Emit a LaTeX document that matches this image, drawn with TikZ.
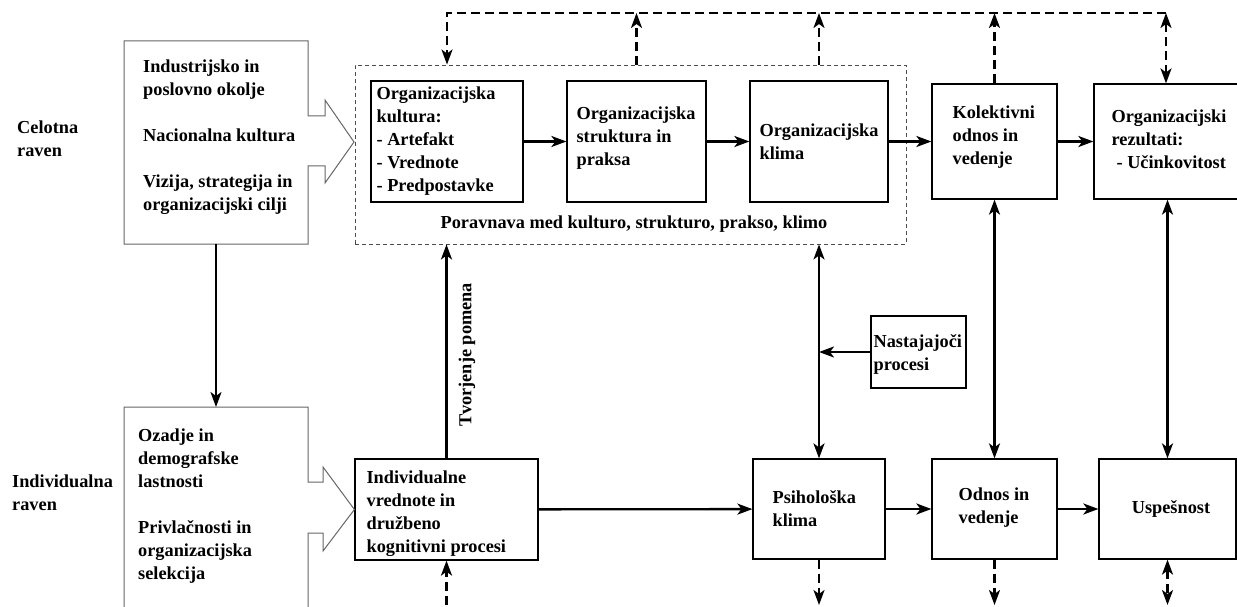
\documentclass[tikz,border=0pt]{standalone}
\usepackage{fontspec}
\setmainfont{Liberation Serif}
\usetikzlibrary{arrows.meta,positioning}

\tikzset{
  headtip/.tip={Stealth[length=15pt,width=11pt,inset=4pt]},
  box/.style={draw=black, line width=1.2pt, inner sep=0pt},
  txt/.style={font=\fontsize{18.3pt}{23pt}\selectfont\bfseries, align=left, inner sep=0pt},
  arr/.style={line width=2.3pt, -headtip},
  darr/.style={line width=2.3pt, headtip-headtip},
  loopline/.style={line width=2.3pt, dash pattern=on 9pt off 5pt},
  shapeline/.style={draw=black!60, line width=1pt},
}

\begin{document}
\begin{tikzpicture}[x=1pt,y=-1pt]
  \useasboundingbox (0,0) rectangle (1237,607);

  % Level labels
  \node[txt, anchor=west] (celotna) at (17,138.5) {Celotna\\raven};
  \node[txt, anchor=west] (indiv) at (12,492.5) {Individualna\\raven};

  % Context boxes with arrow notches
  \draw[shapeline] (124,41) -- (308,41) -- (308,116) -- (325,116) -- (325,100)
    -- (354,142) -- (325,183) -- (325,166) -- (308,166) -- (308,244) -- (124,244) -- cycle;
  \node[txt, anchor=west] (envT) at (143,137)
    {Industrijsko in\\poslovno okolje\\[23.5pt]Nacionalna kultura\\[23pt]Vizija, strategija in\\organizacijski cilji};
  \coordinate (envbot) at (216,244);

  % Dashed alignment frame
  \node[draw=black!70, line width=0.9pt, dash pattern=on 4pt off 3pt,
        minimum width=551pt, minimum height=179pt] (poravnava) at (630.5,154.5) {};
  \node[txt] (poravT) at (634,224) {Poravnava med kulturo, strukturo, prakso, klimo};

  % Top row
  \node[box, minimum width=152pt, minimum height=121pt] (kult) at (447,141.5) {};
  \node[txt, right=6pt of kult.west] (kultT)
    {Organizacijska\\kultura:\\- Artefakt\\- Vrednote\\- Predpostavke};
  \node[box, minimum width=139pt, minimum height=121pt] (struk) at (636.5,141.5) {};
  \node[txt, right=10pt of struk.west, yshift=3pt] (strukT) {Organizacijska\\struktura in\\praksa};
  \node[box, minimum width=138pt, minimum height=121pt] (klima) at (819,141.5) {};
  \node[txt, right=10pt of klima.west] (klimaT) {Organizacijska\\klima};
  \node[box, minimum width=125pt, minimum height=115pt] (kolekt) at (994.5,141.5) {};
  \node[txt, right=21pt of kolekt.west, yshift=4pt] (kolektT) {Kolektivni\\odnos in\\vedenje};
  \node[box, minimum width=151pt, minimum height=115pt] (rez) at (1169.5,141.5) {};
  \node[txt, right=18pt of rez.west, yshift=2pt] (rezT)
    {Organizacijski\\rezultati:\\\hspace{5pt}- Učinkovitost};

  \draw[arr] (kult) -- (struk);
  \draw[arr] (struk) -- (klima);
  \draw[arr] (klima) -- (kolekt);
  \draw[arr] (kolekt) -- (rez);

  % Feedback loop on top
  \coordinate (loopL) at (447,13);
  \coordinate (loopR) at (1166,13);
  \draw[loopline, -headtip] (loopR) -- (loopL) -- (loopL |- poravnava.north);
  \draw[loopline, -headtip] (struk |- poravnava.north) -- (struk |- loopL);
  \draw[loopline, -headtip] (klima |- poravnava.north) -- (klima |- loopL);
  \draw[loopline, -headtip] (kolekt.north) -- (kolekt |- loopL);
  \draw[loopline, headtip-headtip] (loopR) -- (loopR |- rez.north);

  % Individual context box
  \node[box, minimum width=183pt, minimum height=101pt] (indv) at (446.5,509.5) {};
  \node[txt, right=12pt of indv.west, yshift=-4pt] (indvT)
    {Individualne\\vrednote in\\družbeno\\kognitivni procesi};
  \draw[shapeline] (124,607) -- (124,407) -- (308,407) -- (308,482) -- (323,482) -- (323,467)
    -- (indv.west) -- (323,551) -- (323,533) -- (308,533) -- (308,607);
  \node[txt, anchor=west] (backT) at (138,506)
    {Ozadje in\\demografske\\lastnosti\\[23pt]Privlačnosti in\\organizacijska\\selekcija};
  \coordinate (indtop) at (216,407);
  \draw[line width=1.6pt, -headtip] (envbot) -- (indtop);

  % Bottom row
  \node[box, minimum width=132pt, minimum height=100pt] (psih) at (819,509) {};
  \node[txt, right=20pt of psih.west] (psihT) {Psihološka\\klima};
  \node[box, minimum width=125pt, minimum height=100pt] (odnos) at (994.5,509) {};
  \node[txt, right=27pt of odnos.west, yshift=1.5pt] (odnosT) {Odnos in\\vedenje};
  \node[box, minimum width=137pt, minimum height=100pt] (usp) at (1167.5,509) {};
  \node[txt] (uspT) at (1171,509) {Uspešnost};

  \draw[arr] (indv) -- (psih);
  \draw[arr] (psih) -- (odnos);
  \draw[arr] (odnos) -- (usp);

  % Emergent processes
  \node[box, minimum width=95pt, minimum height=72pt] (nast) at (918.5,352) {};
  \node[txt, right=3pt of nast.west, yshift=-2pt] (nastT) {Nastajajoči\\procesi};
  \draw[arr] (nast.west) -- (nast.west -| psih.north);

  % Vertical links between levels
  \draw[arr] (indv.north) -- (indv.north |- poravnava.south);
  \node[txt, rotate=90] (tvor) at (467,355) {Tvorjenje pomena};
  \draw[darr] (psih.north |- poravnava.south) -- (psih.north);
  \draw[darr] (kolekt.south) -- (odnos.north);
  \draw[darr] (usp.north |- rez.south) -- (usp.north);

  % Links leaving the picture
  \coordinate (bot) at (0,605);
  \draw[loopline, -headtip] (indv.south |- bot) -- (indv.south);
  \draw[loopline, -headtip] (psih.south) -- (psih.south |- bot);
  \draw[loopline, -headtip] (odnos.south) -- (odnos.south |- bot);
  \draw[loopline, headtip-headtip] (usp.south) -- (usp.south |- bot);
\end{tikzpicture}
\end{document}
